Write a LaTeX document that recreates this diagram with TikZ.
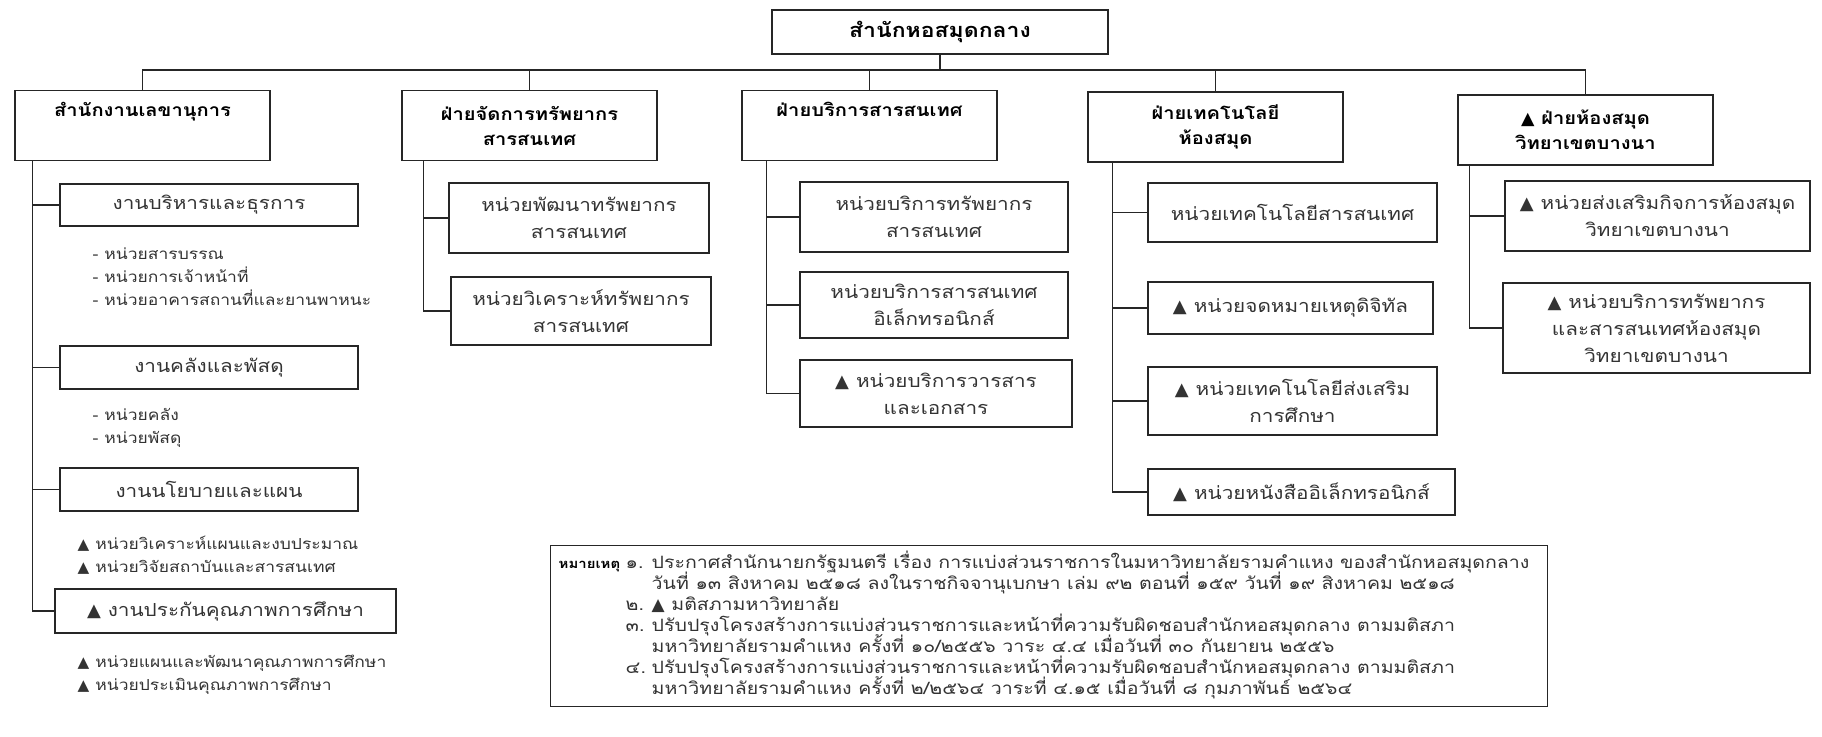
\documentclass[tikz,border=0pt]{standalone}
\usepackage{fontspec}
\setmainfont[Script=Thai,FakeStretch=1.15]{Loma}
\newfontfamily\symfont{DejaVu Sans}
\newcommand{\trimark}{{\symfont ▲}}
\setlength{\lineskiplimit}{-50pt}

\begin{document}
\begin{tikzpicture}[x=1pt,y=-1pt,line width=1.4pt,draw=black!85,
  every node/.style={font=\fontsize{18}{27}\selectfont, text=black!80},
  head/.style={draw, minimum width=255, minimum height=70, align=center,
    font=\bfseries\fontsize{17.5}{25}\selectfont, text=black},
  unit/.style={draw, align=center},
  list/.style={anchor=west, align=left, inner sep=0, font=\fontsize{15.2}{23}\selectfont}]
\useasboundingbox (0,0) rectangle (1822,736);

% top
\node[draw, minimum width=336, minimum height=44, font=\bfseries\fontsize{20}{25}\selectfont, text=black] (top) at (940,32) {สำนักหอสมุดกลาง};
\coordinate (bus) at (0,70);

% divisions
\node[head] (sec) at (142.5,125.5) {สำนักงานเลขานุการ\\\strut};
\node[head] (res) at (529.5,125.5) {ฝ่ายจัดการทรัพยากร\\สารสนเทศ};
\node[head] (svc) at (869.5,125.5) {ฝ่ายบริการสารสนเทศ\\\strut};
\node[head] (tech) at (1215.5,127) {ฝ่ายเทคโนโลยี\\ห้องสมุด};
\node[head] (bn) at (1585.5,130) {\trimark\ ฝ่ายห้องสมุด\\วิทยาเขตบางนา};

\draw (top.south) -- (top.south |- bus);
\draw (sec.north) -- (sec.north |- bus) -- (bn.north |- bus) -- (bn.north);
\foreach \b in {res,svc,tech} \draw (\b.north) -- (\b.north |- bus);

% secretariat
\node[unit, minimum width=298, minimum height=42] (admin) at (209,205) {งานบริหารและธุรการ};
\node[list] (adminlist) at (92,277) {- หน่วยสารบรรณ\\- หน่วยการเจ้าหน้าที่\\- หน่วยอาคารสถานที่และยานพาหนะ};
\node[unit, minimum width=298, minimum height=43] (fin) at (209,367.5) {งานคลังและพัสดุ};
\node[list] (finlist) at (92,428) {- หน่วยคลัง\\- หน่วยพัสดุ};
\node[unit, minimum width=298, minimum height=43] (plan) at (209,489.5) {งานนโยบายและแผน};
\node[list] (planlist) at (77,555.5) {\trimark\ หน่วยวิเคราะห์แผนและงบประมาณ\\\trimark\ หน่วยวิจัยสถาบันและสารสนเทศ};
\node[unit, minimum width=341, minimum height=44] (qa) at (225.5,611) {\trimark\ งานประกันคุณภาพการศึกษา};
\node[list] (qalist) at (77,675) {\trimark\ หน่วยแผนและพัฒนาคุณภาพการศึกษา\\\trimark\ หน่วยประเมินคุณภาพการศึกษา};

\coordinate (sp1) at ([xshift=18]sec.south west);
\draw (sp1) |- (qa.west);
\foreach \c in {admin,fin,plan} \draw (\c.west) -- (\c.west -| sp1);

% resources
\node[unit, minimum width=260, minimum height=70] (dev) at (579,218) {หน่วยพัฒนาทรัพยากร\\สารสนเทศ};
\node[unit, minimum width=260, minimum height=68] (ana) at (581,311) {หน่วยวิเคราะห์ทรัพยากร\\สารสนเทศ};
\coordinate (sp2) at ([xshift=22]res.south west);
\draw (sp2) |- (ana.west);
\draw (dev.west) -- (dev.west -| sp2);

% services
\node[unit, minimum width=268, minimum height=70] (svca) at (934,217) {หน่วยบริการทรัพยากร\\สารสนเทศ};
\node[unit, minimum width=268, minimum height=66] (svcb) at (934,305) {หน่วยบริการสารสนเทศ\\อิเล็กทรอนิกส์};
\node[unit, minimum width=272, minimum height=67] (svcc) at (936,393.5) {\trimark\ หน่วยบริการวารสาร\\และเอกสาร};
\coordinate (sp3) at ([xshift=25]svc.south west);
\draw (sp3) |- (svcc.west);
\foreach \c in {svca,svcb} \draw (\c.west) -- (\c.west -| sp3);

% technology
\node[unit, minimum width=289, minimum height=59] (techa) at (1292.5,212.5) {หน่วยเทคโนโลยีสารสนเทศ};
\node[unit, minimum width=285, minimum height=52] (techb) at (1290.5,308) {\trimark\ หน่วยจดหมายเหตุดิจิทัล};
\node[unit, minimum width=289, minimum height=68] (techc) at (1292.5,401) {\trimark\ หน่วยเทคโนโลยีส่งเสริม\\การศึกษา};
\node[unit, minimum width=307, minimum height=46] (techd) at (1301.5,492) {\trimark\ หน่วยหนังสืออิเล็กทรอนิกส์};
\coordinate (sp4) at ([xshift=25]tech.south west);
\draw (sp4) |- (techd.west);
\foreach \c in {techa,techb,techc} \draw (\c.west) -- (\c.west -| sp4);

% bang na
\node[unit, minimum width=305, minimum height=70] (bna) at (1657.5,216) {\trimark\ หน่วยส่งเสริมกิจการห้องสมุด\\วิทยาเขตบางนา};
\node[unit, minimum width=307, minimum height=90] (bnb) at (1656.5,328) {\trimark\ หน่วยบริการทรัพยากร\\และสารสนเทศห้องสมุด\\วิทยาเขตบางนา};
\coordinate (sp5) at ([xshift=12]bn.south west);
\draw (sp5) |- (bnb.west);
\draw (bna.west) -- (bna.west -| sp5);

% notes
\node[draw, minimum width=997, minimum height=161, anchor=north west] (note) at (550,545) {};
\node[anchor=west, align=left, inner sep=0, font=\fontsize{17}{20.9}\selectfont] (notetext) at (558,625) {%
\makebox[67pt][l]{\textcolor{black}{\bfseries\fontsize{13}{20.9}\selectfont หมายเหตุ}}\makebox[26pt][l]{๑.}ประกาศสำนักนายกรัฐมนตรี เรื่อง การแบ่งส่วนราชการในมหาวิทยาลัยรามคำแหง ของสำนักหอสมุดกลาง\\
\hspace*{93pt}วันที่ ๑๓ สิงหาคม ๒๕๑๘ ลงในราชกิจจานุเบกษา เล่ม ๙๒ ตอนที่ ๑๕๙ วันที่ ๑๙ สิงหาคม ๒๕๑๘\\
\hspace*{67pt}\makebox[26pt][l]{๒.}\trimark\ มติสภามหาวิทยาลัย\\
\hspace*{67pt}\makebox[26pt][l]{๓.}ปรับปรุงโครงสร้างการแบ่งส่วนราชการและหน้าที่ความรับผิดชอบสำนักหอสมุดกลาง ตามมติสภา\\
\hspace*{93pt}มหาวิทยาลัยรามคำแหง ครั้งที่ ๑๐/๒๕๕๖ วาระ ๔.๔ เมื่อวันที่ ๓๐ กันยายน ๒๕๕๖\\
\hspace*{67pt}\makebox[26pt][l]{๔.}ปรับปรุงโครงสร้างการแบ่งส่วนราชการและหน้าที่ความรับผิดชอบสำนักหอสมุดกลาง ตามมติสภา\\
\hspace*{93pt}มหาวิทยาลัยรามคำแหง ครั้งที่ ๒/๒๕๖๔ วาระที่ ๔.๑๕ เมื่อวันที่ ๘ กุมภาพันธ์ ๒๕๖๔};
\end{tikzpicture}
\end{document}
